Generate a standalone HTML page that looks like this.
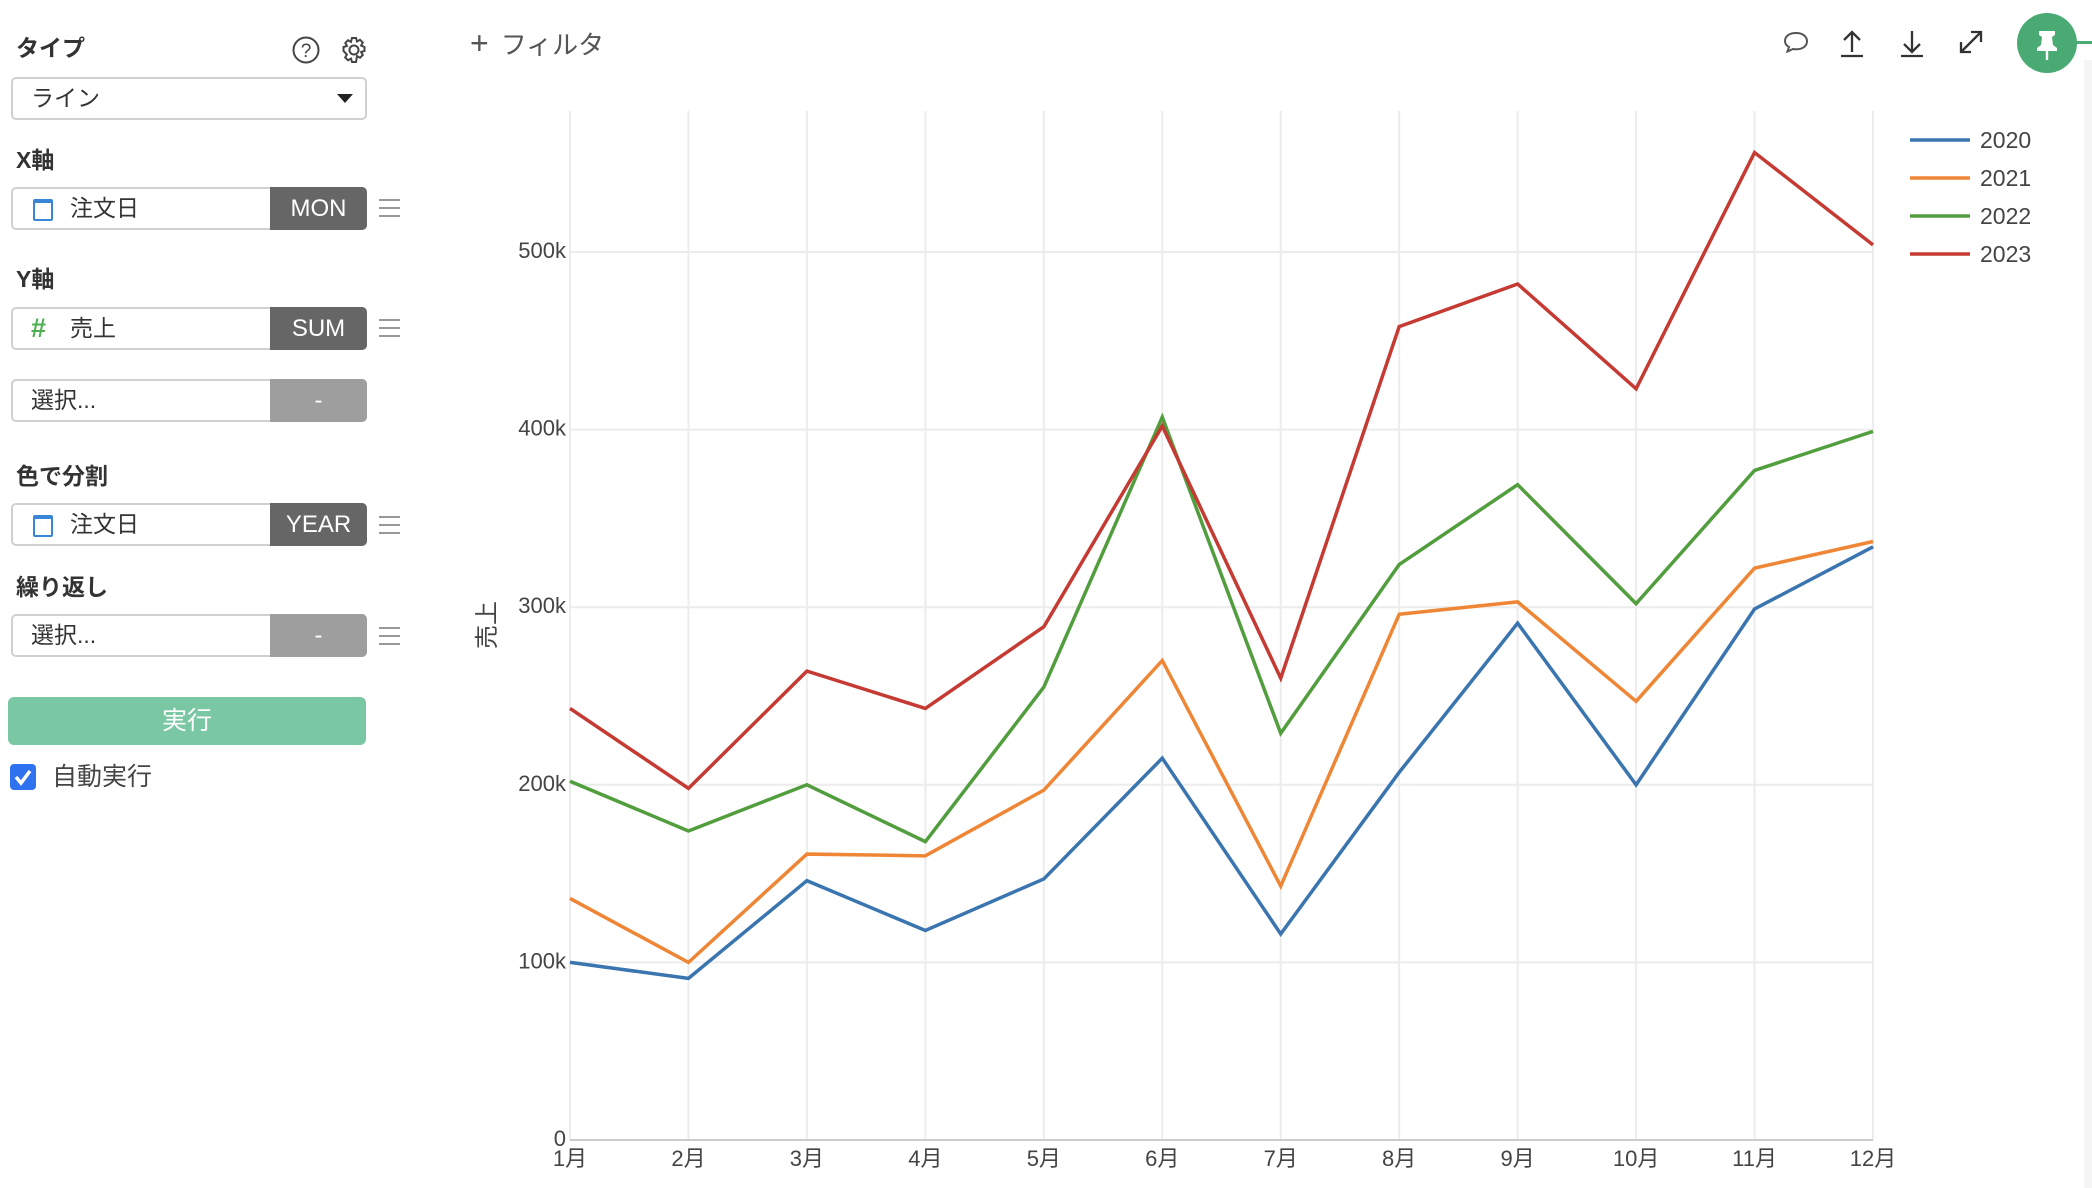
<!DOCTYPE html>
<html><head><meta charset="utf-8">
<style>
html,body{margin:0;padding:0;background:#fff;}
body{width:2092px;height:1188px;position:relative;overflow:hidden;font-family:"Liberation Sans","Noto Sans CJK JP",sans-serif;color:#333;}
.abs{position:absolute;}
.lbl{position:absolute;font-weight:bold;font-size:23px;color:#333;left:16px;line-height:30px;}
.field{position:absolute;left:11px;width:356px;height:43px;border:2px solid #d0d0d0;border-radius:5px;background:#fff;box-sizing:border-box;}
.field .txt{position:absolute;left:57px;top:0;line-height:39px;font-size:23px;color:#333;}
.field .tag{position:absolute;right:-2px;top:-2px;width:97px;height:43px;background:#666;color:#fff;font-size:24px;text-align:center;line-height:43px;border-radius:0 5px 5px 0;}
.field .tag.dis{background:#9e9e9e;}
.ham{position:absolute;left:379px;width:21px;height:14px;border-top:2px solid #999;border-bottom:2px solid #999;}
.ham:after{content:"";position:absolute;left:0;right:0;top:6px;border-top:2px solid #999;}
.cal{position:absolute;left:20px;top:10px;width:16px;height:16px;border:2.5px solid #3a86d6;border-top-width:4px;border-radius:2px;}
</style></head><body>
<!-- sidebar -->
<div class="lbl" style="top:33px;">タイプ</div>
<svg class="abs" style="left:292px;top:36px" width="28" height="28" viewBox="0 0 28 28"><circle cx="14" cy="14" r="12.5" fill="none" stroke="#444" stroke-width="2"/><text x="14" y="21" font-size="19" text-anchor="middle" fill="#444" font-family="Liberation Sans">?</text></svg>
<svg class="abs" style="left:340px;top:36px" width="28" height="28" viewBox="0 0 28 28"><g fill="none" stroke="#444" stroke-width="2"><circle cx="14" cy="14" r="4.5"/><path d="M12 2h4l1 3.5 3-1.7 2.8 2.8-1.7 3L24.5 11v4l-3.4 1 1.7 3-2.8 2.8-3-1.7L16 26h-4l-1-3.4-3 1.7-2.8-2.8 1.7-3L3.5 15v-4L7 10 5.3 7 8 4.2l3 1.7z"/></g></svg>
<div class="field" style="top:77px;">
  <div class="txt" style="left:18px">ライン</div>
  <div class="abs" style="right:12px;top:15px;width:0;height:0;border-left:8px solid transparent;border-right:8px solid transparent;border-top:9px solid #222;"></div>
</div>
<div class="lbl" style="top:145px;">X軸</div>
<div class="field" style="top:187px;"><div class="cal"></div><div class="txt">注文日</div><div class="tag">MON</div></div>
<div class="ham" style="top:199px"></div>
<div class="lbl" style="top:264px;">Y軸</div>
<div class="field" style="top:307px;"><div class="abs" style="left:18px;top:0;line-height:39px;font-size:27px;font-weight:bold;color:#4caf50;">#</div><div class="txt">売上</div><div class="tag">SUM</div></div>
<div class="ham" style="top:319px"></div>
<div class="field" style="top:379px;"><div class="txt" style="left:18px">選択...</div><div class="tag dis">-</div></div>
<div class="lbl" style="top:461px;">色で分割</div>
<div class="field" style="top:503px;"><div class="cal"></div><div class="txt">注文日</div><div class="tag">YEAR</div></div>
<div class="ham" style="top:516px"></div>
<div class="lbl" style="top:572px;">繰り返し</div>
<div class="field" style="top:614px;"><div class="txt" style="left:18px">選択...</div><div class="tag dis">-</div></div>
<div class="ham" style="top:627px"></div>
<div class="abs" style="left:8px;top:697px;width:358px;height:48px;background:#7ac7a4;border-radius:6px;color:#fff;font-size:25px;text-align:center;line-height:48px;">実行</div>
<div class="abs" style="left:10px;top:764px;width:26px;height:26px;background:#2f72f0;border-radius:4px;"><svg width="26" height="26"><path d="M6 13l5 6 9-12" fill="none" stroke="#fff" stroke-width="3.5"/></svg></div>
<div class="abs" style="left:52px;top:762px;font-size:25px;line-height:30px;color:#444;">自動実行</div>

<!-- top bar -->
<div class="abs" style="left:470px;top:25px;font-size:26px;line-height:36px;color:#555;"><span style="font-size:32px;margin-right:12px;">+</span>フィルタ</div>
<svg class="abs" style="left:1782px;top:30px" width="28" height="26"><path d="M14 3C7 3 3 6.5 3 11c0 3 2 5 4 6l-1.5 4.5L11 19c1 .2 2 .3 3 .3 7 0 11-3.5 11-8S21 3 14 3z" fill="none" stroke="#555" stroke-width="2"/></svg>
<svg class="abs" style="left:1838px;top:28px" width="28" height="30"><g stroke="#333" stroke-width="2.3" fill="none"><path d="M14 24V4M6 12l8-8 8 8M3 28h22"/></g></svg>
<svg class="abs" style="left:1898px;top:28px" width="28" height="30"><g stroke="#333" stroke-width="2.3" fill="none"><path d="M14 3v21M6 16l8 8 8-8M3 28h22"/></g></svg>
<svg class="abs" style="left:1957px;top:28px" width="28" height="28"><g stroke="#333" stroke-width="2.3" fill="none"><path d="M4 24L24 4M14 4h10v10M4 14v10h10"/></g></svg>
<div class="abs" style="left:2017px;top:13px;width:60px;height:60px;border-radius:50%;background:#4aaa74;">
<svg width="60" height="60"><path d="M22 18h16v4l-3 2 1 8 4 3v3H20v-3l4-3 1-8-3-2z" fill="#fff"/><rect x="28.8" y="37" width="2.4" height="10" fill="#fff"/></svg></div>
<div class="abs" style="left:2076px;top:41px;width:16px;height:3px;background:#4aaa74;"></div>
<div class="abs" style="left:2084px;top:60px;width:8px;height:1128px;background:#f5f5f5;"></div>

<!-- chart -->
<svg id="chart" class="abs" style="left:0;top:0" width="2092" height="1188"></svg>
<script>
const months = ["1月","2月","3月","4月","5月","6月","7月","8月","9月","10月","11月","12月"];
const years = ["2020","2021","2022","2023"];
const colors = ["#3a75af","#ef8636","#529e3e","#c53a32"];
const s2020 = [100,91,146,118,147,215,116,207,291,200,299,334];
const s2021 = [136,100,161,160,197,270,143,296,303,247,322,337];
const s2022 = [202,174,200,168,255,407,229,324,369,302,377,399];
const s2023 = [243,198,264,243,289,402,260,458,482,423,556,504];
const yTicks = [0,100,200,300,400,500];
const yTickLabels = ["0","100k","200k","300k","400k","500k"];
const series = [s2020,s2021,s2022,s2023];

const NS="http://www.w3.org/2000/svg";
const svg=document.getElementById('chart');
const X0=570,X1=1873,Y0=1140,YTOP=111;
const yPer=177.6/100;
function xs(i){return X0+(X1-X0)*i/(months.length-1);}
function ys(v){return Y0-v*yPer;}
function mk(t,a){const e=document.createElementNS(NS,t);for(const k in a)e.setAttribute(k,a[k]);svg.appendChild(e);return e;}
months.forEach((m,i)=>{
  const g=mk('line',{x1:xs(i),x2:xs(i),y1:YTOP,y2:Y0,stroke:'#ececec','stroke-width':2});
  
  
  const t=mk('text',{x:xs(i),y:Y0+26,'text-anchor':'middle','font-size':22,fill:'#444','font-family':'Liberation Sans, Noto Sans CJK JP, sans-serif'});
  t.textContent=m;
  
  
});
yTicks.forEach((v,i)=>{
  if(v>0){const g=mk('line',{x1:X0,x2:X1,y1:ys(v),y2:ys(v),stroke:'#ececec','stroke-width':2});
  
  }
  const t=mk('text',{x:X0-4,y:ys(v)+6,'text-anchor':'end','font-size':22,fill:'#444','font-family':'Liberation Sans, sans-serif'});
  t.textContent=yTickLabels[i];
  
  
});
const ax=mk('line',{x1:X0,x2:X1,y1:Y0,y2:Y0,stroke:'#cccccc','stroke-width':2});


const yt=mk('text',{x:0,y:0,'text-anchor':'middle','font-size':24,fill:'#444',transform:'translate(495,625) rotate(-90)','font-family':'Liberation Sans, Noto Sans CJK JP, sans-serif'});
yt.textContent='売上';


series.forEach((s,k)=>{
  const p=mk('polyline',{points:s.map((v,i)=>xs(i)+','+ys(v)).join(' '),fill:'none',stroke:colors[k],'stroke-width':3.5,'stroke-linejoin':'miter'});
  
  
  const ly=140+k*38;
  const l=mk('line',{x1:1910,x2:1970,y1:ly,y2:ly,stroke:colors[k],'stroke-width':3.5});
  
  
  const t=mk('text',{x:1980,y:ly+8,'font-size':23,fill:'#444','font-family':'Liberation Sans, sans-serif'});
  t.textContent=years[k];
  
  
});
</script>
</body></html>
